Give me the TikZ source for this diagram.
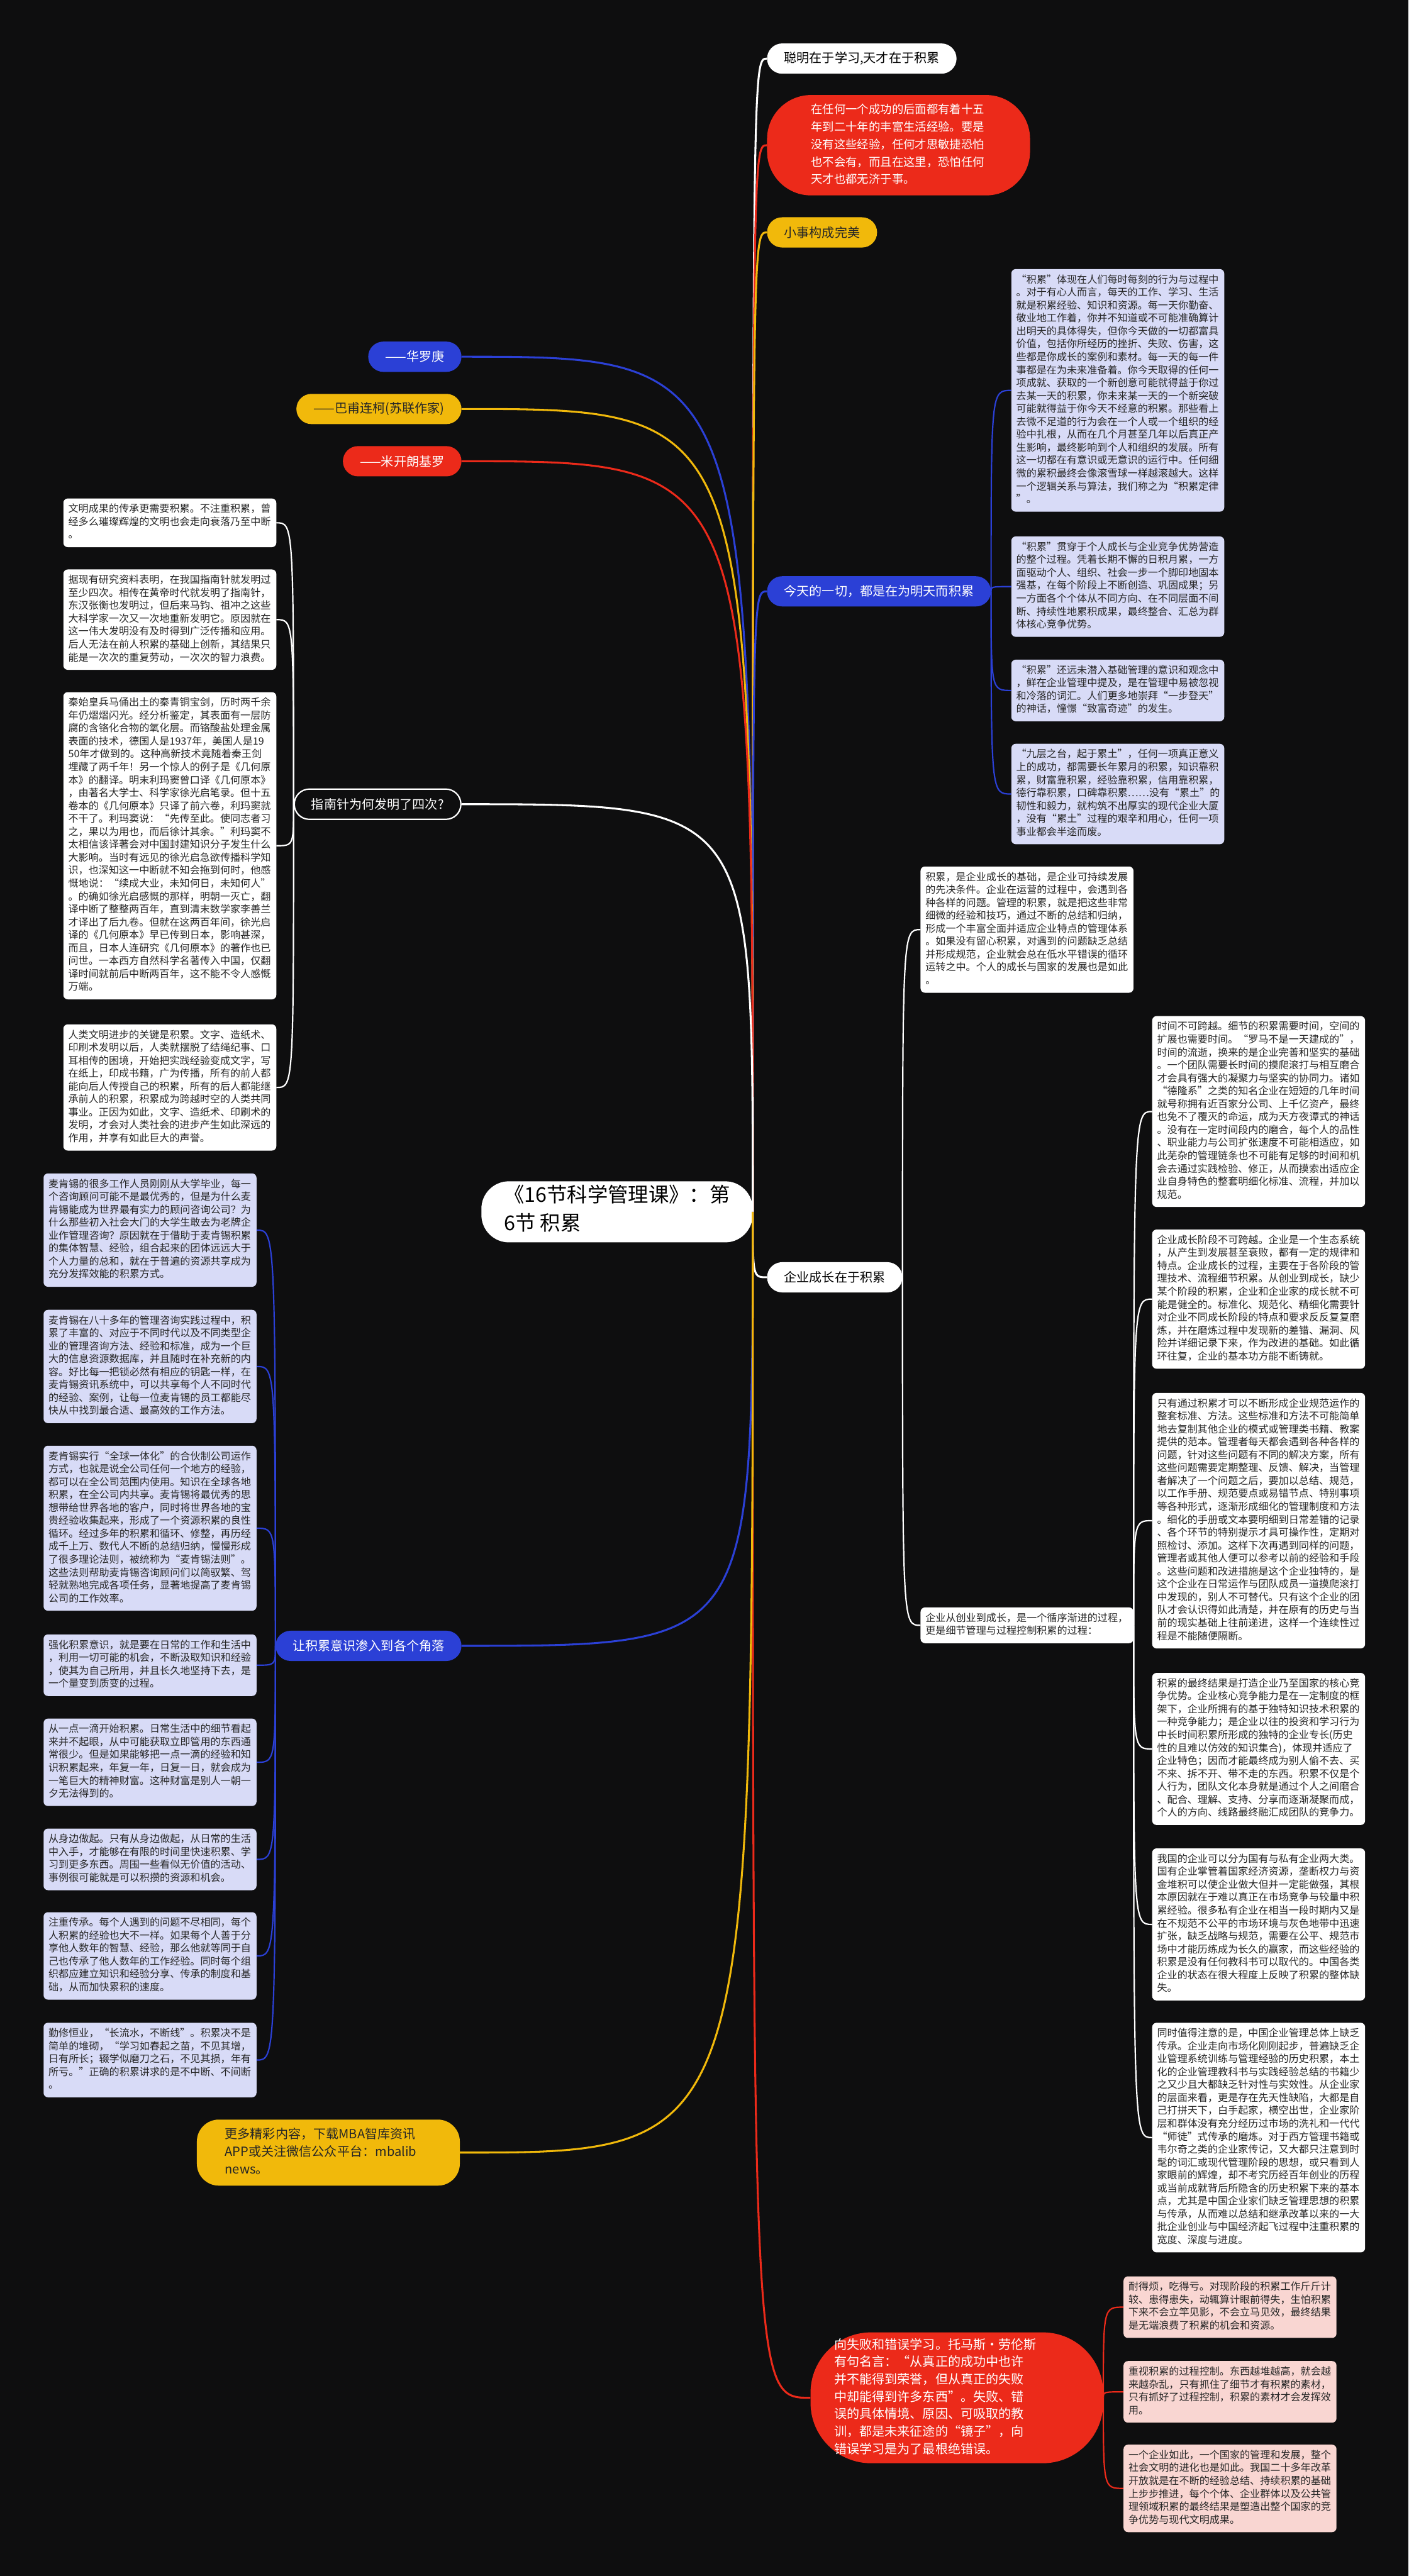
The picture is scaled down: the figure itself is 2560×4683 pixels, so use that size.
\documentclass[tikz,border=0pt]{standalone}
\usepackage{fontspec}
\setmainfont{Noto Sans CJK SC}
\usetikzlibrary{positioning}

\definecolor{bg}{HTML}{0E0E0F}
\definecolor{mred}{HTML}{EC2A1A}
\definecolor{myel}{HTML}{F1B90B}
\definecolor{mblue}{HTML}{2B40D6}
\definecolor{lav}{HTML}{D8DBF7}
\definecolor{pink}{HTML}{F9D6D2}
\definecolor{ink}{HTML}{262626}

\tikzset{
  pill/.style={rounded corners=27.5pt, minimum height=55pt, inner xsep=31pt, inner ysep=0pt, font=\fontsize{23}{30}\selectfont},
  big/.style={align=left, font=\fontsize{23}{31.7}\selectfont, execute at begin node=\strut, execute at end node=\strut},
  card/.style={rounded corners=8pt, anchor=north west, text width=369pt, inner xsep=9pt, inner ysep=9pt, align=left, text=ink,
    font=\fontsize{18.4}{23.5}\selectfont, execute at begin node=\strut, execute at end node=\strut},
  lavcard/.style={card, fill=lav},
  whitecard/.style={card, fill=white},
  pinkcard/.style={card, fill=pink},
  mainline/.style={line width=3.5pt},
  subline/.style={line width=2.5pt}
}

\begin{document}
\begin{tikzpicture}[x=1pt, y=-1pt]
\fill[bg] (0,0) rectangle (2560,4683);

% centre
\node[fill=white, rounded corners=50pt, align=left, text=black, inner xsep=41pt, inner ysep=6pt,
  font=\fontsize{37}{52}\selectfont, execute at begin node=\strut, execute at end node=\strut] (root) at (1121.5,2203)
  {《16节科学管理课》：第\\6节 积累};

% right branches
\node[pill, fill=white, text=black, anchor=west] (top1) at (1394,106.5) {聪明在于学习,天才在于积累};
\node[big, fill=mred, text=white, rounded corners=80pt, text width=318pt, inner xsep=80pt, inner ysep=12pt, anchor=west,
  font=\fontsize{21}{31.7}\selectfont] (quote) at (1394,264)
  {在任何一个成功的后面都有着十五\\年到二十年的丰富生活经验。要是\\没有这些经验，任何才思敏捷恐怕\\也不会有，而且在这里，恐怕任何\\天才也都无济于事。};
\node[pill, fill=myel, text=ink, anchor=west] (small) at (1394,422.5) {小事构成完美};
\node[pill, fill=mblue, text=white, anchor=west] (today) at (1394,1075) {今天的一切，都是在为明天而积累};
\node[pill, fill=white, text=black, anchor=west] (grow) at (1394,2322) {企业成长在于积累};
\node[big, fill=mred, text=white, rounded corners=110pt, text width=446pt, inner xsep=43pt, inner ysep=8pt, anchor=west] (fail) at (1473,4359)
  {向失败和错误学习。托马斯·劳伦斯\\有句名言：“从真正的成功中也许\\并不能得到荣誉，但从真正的失败\\中却能得到许多东西”。失败、错\\误的具体情境、原因、可吸取的教\\训，都是未来征途的“镜子”，向\\错误学习是为了最根绝错误。};

% left branches
\node[pill, fill=mblue, text=white, anchor=east] (hua) at (839,648.5) {——华罗庚};
\node[pill, fill=myel, text=ink, anchor=east] (ba) at (839,743.5) {——巴甫连柯(苏联作家)};
\node[pill, fill=mred, text=white, anchor=east] (mi) at (839,838.5) {——米开朗基罗};
\node[pill, fill=bg, draw=white, line width=2.5pt, text=white, anchor=east] (zhi) at (839,1462) {指南针为何发明了四次?};
\node[pill, fill=mblue, text=white, anchor=east] (rang) at (839,2992) {让积累意识渗入到各个角落};
\node[big, fill=myel, text=ink, rounded corners=40pt, text width=376pt, inner xsep=51pt, inner ysep=12.5pt, anchor=north east] (more) at (836,3853)
  {更多精彩内容，下载MBA智库资讯\\APP或关注微信公众平台：mbalib\\news。};

% today
\node[lavcard] (ga) at (1838,489) {“积累”体现在人们每时每刻的行为与过程中\\。对于有心人而言，每天的工作、学习、生活\\就是积累经验、知识和资源。每一天你勤奋、\\敬业地工作着，你并不知道或不可能准确算计\\出明天的具体得失，但你今天做的一切都富具\\价值，包括你所经历的挫折、失败、伤害，这\\些都是你成长的案例和素材。每一天的每一件\\事都是在为未来准备着。你今天取得的任何一\\项成就、获取的一个新创意可能就得益于你过\\去某一天的积累，你未来某一天的一个新突破\\可能就得益于你今天不经意的积累。那些看上\\去微不足道的行为会在一个人或一个组织的经\\验中扎根，从而在几个月甚至几年以后真正产\\生影响，最终影响到个人和组织的发展。所有\\这一切都在有意识或无意识的运行中。任何细\\微的累积最终会像滚雪球一样越滚越大。这样\\一个逻辑关系与算法，我们称之为“积累定律\\”。};
\node[lavcard] (gb) at (1838,975) {“积累”贯穿于个人成长与企业竞争优势营造\\的整个过程。凭着长期不懈的日积月累，一方\\面驱动个人、组织、社会一步一个脚印地固本\\强基，在每个阶段上不断创造、巩固成果；另\\一方面各个个体从不同方向、在不同层面不间\\断、持续性地累积成果，最终整合、汇总为群\\体核心竞争优势。};
\node[lavcard] (gc) at (1838,1199) {“积累”还远未潜入基础管理的意识和观念中\\，鲜在企业管理中提及，是在管理中易被忽视\\和冷落的词汇。人们更多地崇拜“一步登天”\\的神话，憧憬“致富奇迹”的发生。};
\node[lavcard] (gd) at (1838,1352) {“九层之台，起于累土”，任何一项真正意义\\上的成功，都需要长年累月的积累，知识靠积\\累，财富靠积累，经验靠积累，信用靠积累，\\德行靠积累，口碑靠积累……没有“累土”的\\韧性和毅力，就构筑不出厚实的现代企业大厦\\，没有“累土”过程的艰辛和用心，任何一项\\事业都会半途而废。};

% compass
\node[whitecard] (wa) at (115,906) {文明成果的传承更需要积累。不注重积累，曾\\经多么璀璨辉煌的文明也会走向衰落乃至中断\\。};
\node[whitecard] (wb) at (115,1035) {据现有研究资料表明，在我国指南针就发明过\\至少四次。相传在黄帝时代就发明了指南针，\\东汉张衡也发明过，但后来马钧、祖冲之这些\\大科学家一次又一次地重新发明它。原因就在\\这一伟大发明没有及时得到广泛传播和应用。\\后人无法在前人积累的基础上创新，其结果只\\能是一次次的重复劳动，一次次的智力浪费。};
\node[whitecard] (wc) at (115,1258) {秦始皇兵马俑出土的秦青铜宝剑，历时两千余\\年仍熠熠闪光。经分析鉴定，其表面有一层防\\腐的含铬化合物的氧化层。而铬酸盐处理金属\\表面的技术，德国人是1937年，美国人是19\\50年才做到的。这种高新技术竟随着秦王剑\\埋藏了两千年！另一个惊人的例子是《几何原\\本》的翻译。明末利玛窦曾口译《几何原本》\\，由著名大学士、科学家徐光启笔录。但十五\\卷本的《几何原本》只译了前六卷，利玛窦就\\不干了。利玛窦说：“先传至此。使同志者习\\之，果以为用也，而后徐计其余。”利玛窦不\\太相信该译著会对中国封建知识分子发生什么\\大影响。当时有远见的徐光启急欲传播科学知\\识，也深知这一中断就不知会拖到何时，他感\\慨地说：“续成大业，未知何日，未知何人”\\。的确如徐光启感慨的那样，明朝一灭亡，翻\\译中断了整整两百年，直到清末数学家李善兰\\才译出了后九卷。但就在这两百年间，徐光启\\译的《几何原本》早已传到日本，影响甚深，\\而且，日本人连研究《几何原本》的著作也已\\问世。一本西方自然科学名著传入中国，仅翻\\译时间就前后中断两百年，这不能不令人感慨\\万端。};
\node[whitecard] (wd) at (115,1862) {人类文明进步的关键是积累。文字、造纸术、\\印刷术发明以后，人类就摆脱了结绳纪事、口\\耳相传的困境，开始把实践经验变成文字，写\\在纸上，印成书籍，广为传播，所有的前人都\\能向后人传授自己的积累，所有的后人都能继\\承前人的积累，积累成为跨越时空的人类共同\\事业。正因为如此，文字、造纸术、印刷术的\\发明，才会对人类社会的进步产生如此深远的\\作用，并享有如此巨大的声誉。};

% awareness
\node[lavcard] (ma) at (79,2133) {麦肯锡的很多工作人员刚刚从大学毕业，每一\\个咨询顾问可能不是最优秀的，但是为什么麦\\肯锡能成为世界最有实力的顾问咨询公司？为\\什么那些初入社会大门的大学生敢去为老牌企\\业作管理咨询？原因就在于借助于麦肯锡积累\\的集体智慧、经验，组合起来的团体远远大于\\个人力量的总和，就在于普遍的资源共享成为\\充分发挥效能的积累方式。};
\node[lavcard] (mb) at (79,2381) {麦肯锡在八十多年的管理咨询实践过程中，积\\累了丰富的、对应于不同时代以及不同类型企\\业的管理咨询方法、经验和标准，成为一个巨\\大的信息资源数据库，并且随时在补充新的内\\容。好比每一把锁必然有相应的钥匙一样，在\\麦肯锡资讯系统中，可以共享每个人不同时代\\的经验、案例，让每一位麦肯锡的员工都能尽\\快从中找到最合适、最高效的工作方法。};
\node[lavcard] (mc) at (79,2628) {麦肯锡实行“全球一体化”的合伙制公司运作\\方式，也就是说全公司任何一个地方的经验，\\都可以在全公司范围内使用。知识在全球各地\\积累，在全公司内共享。麦肯锡将最优秀的思\\想带给世界各地的客户，同时将世界各地的宝\\贵经验收集起来，形成了一个资源积累的良性\\循环。经过多年的积累和循环、修整，再历经\\成千上万、数代人不断的总结归纳，慢慢形成\\了很多理论法则，被统称为“麦肯锡法则”。\\这些法则帮助麦肯锡咨询顾问们以简驭繁、驾\\轻就熟地完成各项任务，显著地提高了麦肯锡\\公司的工作效率。};
\node[lavcard] (md) at (79,2971) {强化积累意识，就是要在日常的工作和生活中\\，利用一切可能的机会，不断汲取知识和经验\\，使其为自己所用，并且长久地坚持下去，是\\一个量变到质变的过程。};
\node[lavcard] (me) at (79,3124) {从一点一滴开始积累。日常生活中的细节看起\\来并不起眼，从中可能获取立即管用的东西通\\常很少。但是如果能够把一点一滴的经验和知\\识积累起来，年复一年，日复一日，就会成为\\一笔巨大的精神财富。这种财富是别人一朝一\\夕无法得到的。};
\node[lavcard] (mf) at (79,3324) {从身边做起。只有从身边做起，从日常的生活\\中入手，才能够在有限的时间里快速积累、学\\习到更多东西。周围一些看似无价值的活动、\\事例很可能就是可以积攒的资源和机会。};
\node[lavcard] (mg) at (79,3476) {注重传承。每个人遇到的问题不尽相同，每个\\人积累的经验也大不一样。如果每个人善于分\\享他人数年的智慧、经验，那么他就等同于自\\己也传承了他人数年的工作经验。同时每个组\\织都应建立知识和经验分享、传承的制度和基\\础，从而加快累积的速度。};
\node[lavcard] (mh) at (79,3677) {勤修恒业，“长流水，不断线”。积累决不是\\简单的堆砌，“学习如春起之苗，不见其增，\\日有所长；辍学似磨刀之石，不见其损，年有\\所亏。”正确的积累讲求的是不中断、不间断\\。};

% growth
\node[whitecard] (gmid) at (1673,1575) {积累，是企业成长的基础，是企业可持续发展\\的先决条件。企业在运营的过程中，会遇到各\\种各样的问题。管理的积累，就是把这些非常\\细微的经验和技巧，通过不断的总结和归纳，\\形成一个丰富全面并适应企业特点的管理体系\\。如果没有留心积累，对遇到的问题缺乏总结\\并形成规范，企业就会总在低水平错误的循环\\运转之中。个人的成长与国家的发展也是如此\\。};
\node[whitecard] (gsub) at (1673,2922) {企业从创业到成长，是一个循序渐进的过程，\\更是细节管理与过程控制积累的过程：};

\node[whitecard] (ra) at (2094,1847) {时间不可跨越。细节的积累需要时间，空间的\\扩展也需要时间。“罗马不是一天建成的”，\\时间的流逝，换来的是企业完善和坚实的基础\\。一个团队需要长时间的摸爬滚打与相互磨合\\才会具有强大的凝聚力与坚实的协同力。诸如\\“德隆系”之类的知名企业在短短的几年时间\\就号称拥有近百家分公司、上千亿资产，最终\\也免不了覆灭的命运，成为天方夜谭式的神话\\。没有在一定时间段内的磨合，每个人的品性\\、职业能力与公司扩张速度不可能相适应，如\\此芜杂的管理链条也不可能有足够的时间和机\\会去通过实践检验、修正，从而摸索出适应企\\业自身特色的整套明细化标准、流程，并加以\\规范。};
\node[whitecard] (rb) at (2094,2235) {企业成长阶段不可跨越。企业是一个生态系统\\，从产生到发展甚至衰败，都有一定的规律和\\特点。企业成长的过程，主要在于各阶段的管\\理技术、流程细节积累。从创业到成长，缺少\\某个阶段的积累，企业和企业家的成长就不可\\能是健全的。标准化、规范化、精细化需要针\\对企业不同成长阶段的特点和要求反反复复磨\\炼，并在磨炼过程中发现新的差错、漏洞、风\\险并详细记录下来，作为改进的基础。如此循\\环往复，企业的基本功方能不断铸就。};
\node[whitecard] (rc) at (2094,2532) {只有通过积累才可以不断形成企业规范运作的\\整套标准、方法。这些标准和方法不可能简单\\地去复制其他企业的模式或管理类书籍、教案\\提供的范本。管理者每天都会遇到各种各样的\\问题，针对这些问题有不同的解决方案，所有\\这些问题需要定期整理、反馈、解决，当管理\\者解决了一个问题之后，要加以总结、规范，\\以工作手册、规范要点或易错节点、特别事项\\等各种形式，逐渐形成细化的管理制度和方法\\。细化的手册或文本要明细到日常差错的记录\\、各个环节的特别提示才具可操作性，定期对\\照检讨、添加。这样下次再遇到同样的问题，\\管理者或其他人便可以参考以前的经验和手段\\。这些问题和改进措施是这个企业独特的，是\\这个企业在日常运作与团队成员一道摸爬滚打\\中发现的，别人不可替代。只有这个企业的团\\队才会认识得如此清楚，并在原有的历史与当\\前的现实基础上往前递进，这样一个连续性过\\程是不能随便隔断。};
\node[whitecard] (rd) at (2094,3041) {积累的最终结果是打造企业乃至国家的核心竞\\争优势。企业核心竞争能力是在一定制度的框\\架下，企业所拥有的基于独特知识技术积累的\\一种竞争能力；是企业以往的投资和学习行为\\中长时间积累所形成的独特的企业专长(历史\\性的且难以仿效的知识集合)，体现并适应了\\企业特色；因而才能最终成为别人偷不去、买\\不来、拆不开、带不走的东西。积累不仅是个\\人行为，团队文化本身就是通过个人之间磨合\\、配合、理解、支持、分享而逐渐凝聚而成，\\个人的方向、线路最终融汇成团队的竞争力。};
\node[whitecard] (re) at (2094,3360) {我国的企业可以分为国有与私有企业两大类。\\国有企业掌管着国家经济资源，垄断权力与资\\金堆积可以使企业做大但并一定能做强，其根\\本原因就在于难以真正在市场竞争与较量中积\\累经验。很多私有企业在相当一段时期内又是\\在不规范不公平的市场环境与灰色地带中迅速\\扩张，缺乏战略与规范，需要在公平、规范市\\场中才能历练成为长久的赢家，而这些经验的\\积累是没有任何教科书可以取代的。中国各类\\企业的状态在很大程度上反映了积累的整体缺\\失。};
\node[whitecard] (rf) at (2094,3677) {同时值得注意的是，中国企业管理总体上缺乏\\传承。企业走向市场化刚刚起步，普遍缺乏企\\业管理系统训练与管理经验的历史积累，本土\\化的企业管理教科书与实践经验总结的书籍少\\之又少且大都缺乏针对性与实效性。从企业家\\的层面来看，更是存在先天性缺陷，大都是自\\己打拼天下，白手起家，横空出世，企业家阶\\层和群体没有充分经历过市场的洗礼和一代代\\“师徒”式传承的磨炼。对于西方管理书籍或\\韦尔奇之类的企业家传记，又大都只注意到时\\髦的词汇或现代管理阶段的思想，或只看到人\\家眼前的辉煌，却不考究历经百年创业的历程\\或当前成就背后所隐含的历史积累下来的基本\\点，尤其是中国企业家们缺乏管理思想的积累\\与传承，从而难以总结和继承改革以来的一大\\批企业创业与中国经济起飞过程中注重积累的\\宽度、深度与进度。};

% failure
\node[pinkcard] (pa) at (2042,4138) {耐得烦，吃得亏。对现阶段的积累工作斤斤计\\较、患得患失，动辄算计眼前得失，生怕积累\\下来不会立竿见影，不会立马见效，最终结果\\是无端浪费了积累的机会和资源。};
\node[pinkcard] (pb) at (2042,4292) {重视积累的过程控制。东西越堆越高，就会越\\来越杂乱，只有抓住了细节才有积累的素材，\\只有抓好了过程控制，积累的素材才会发挥效\\用。};
\node[pinkcard] (pc) at (2042,4444) {一个企业如此，一个国家的管理和发展，整个\\社会文明的进化也是如此。我国二十多年改革\\开放就是在不断的经验总结、持续积累的基础\\上步步推进，每个个体、企业群体以及公共管\\理领域积累的最终结果是塑造出整个国家的竞\\争优势与现代文明成果。};

% branches from the centre
\foreach \n/\c in {top1/white, quote/mred, small/myel, today/mblue, grow/white, fail/mred}
  \draw[mainline, \c] (root.east) .. controls (root.east |- \n.west) .. (\n.west);
\foreach \n/\c in {hua/mblue, ba/myel, mi/mred, zhi/white, rang/mblue, more/myel}
  \draw[mainline, \c] (root.east) .. controls (root.east |- \n.east) .. (\n.east);

% sub branches
\foreach \n in {ga,gb,gc,gd}
  \draw[subline, mblue] (today.east) .. controls (today.east |- \n.west) .. (\n.west);
\foreach \n in {wa,wb,wc,wd}
  \draw[subline, white] (zhi.west) .. controls (zhi.west |- \n.east) .. (\n.east);
\foreach \n in {ma,mb,mc,md,me,mf,mg,mh}
  \draw[subline, mblue] (rang.west) .. controls (rang.west |- \n.east) .. (\n.east);
\foreach \n in {gmid,gsub}
  \draw[subline, white] (grow.east) .. controls (grow.east |- \n.west) .. (\n.west);
\foreach \n in {ra,rb,rc,rd,re,rf}
  \draw[subline, white] (gsub.east) .. controls (gsub.east |- \n.west) .. (\n.west);
\foreach \n in {pa,pb,pc}
  \draw[subline, mred] (fail.east) .. controls (fail.east |- \n.west) .. (\n.west);
\end{tikzpicture}
\end{document}
